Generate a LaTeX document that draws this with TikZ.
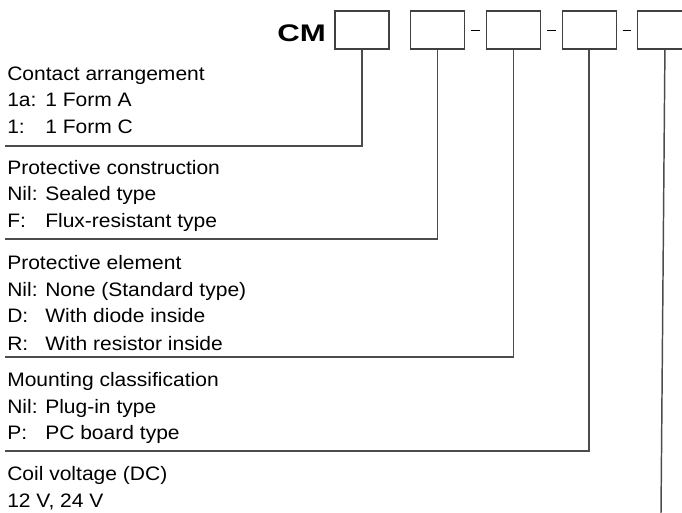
\documentclass[tikz,border=0pt]{standalone}
\usepackage{fontspec}
\setmainfont{Liberation Sans}[FakeStretch=1.08]
\newfontfamily\codefont{Liberation Sans}[FakeStretch=1.3]
\usetikzlibrary{positioning}
\newcommand{\opt}[2]{\makebox[28.5pt][l]{#1}#2}

\begin{document}
\begin{tikzpicture}[x=0.75pt, y=-0.75pt,
	slot/.style={draw=black!75, line width=0.8pt, minimum width=40.5pt, minimum height=28.5pt, inner sep=0pt},
	entry/.style={anchor=base west, inner sep=0pt, font=\fontsize{14.6pt}{20pt}\selectfont},
	lead/.style={draw=black!70, line width=1.1pt},
	sepmark/.style={draw=black, line width=0.6pt}]
	\useasboundingbox (0,0) rectangle (682,513);
	% part number boxes
	\node[anchor=base west, inner sep=0pt, font=\codefont\bfseries\fontsize{18pt}{18pt}\selectfont] (cm) at (277,42) {CM};
	\node[slot] (b1) at (362,30) {};
	\node[slot, right=15.5pt of b1] (b2) {};
	\node[slot, right=15.5pt of b2] (b3) {};
	\node[slot, right=15.5pt of b3] (b4) {};
	\node[slot, right=15.5pt of b4] (b5) {};
	\draw[sepmark] ([xshift=4.5pt]b2.east) -- ([xshift=-4.5pt]b3.west);
	\draw[sepmark] ([xshift=4.5pt]b3.east) -- ([xshift=-4.5pt]b4.west);
	\draw[sepmark] ([xshift=4.5pt]b4.east) -- ([xshift=-4.5pt]b5.west);
	% contact arrangement
	\node[entry] (ca) at (7,81) {Contact arrangement};
	\node[entry] (ca1) at (7,107) {\opt{1a:}{1 Form A}};
	\node[entry] (ca2) at (7,134) {\opt{1:}{1 Form C}};
	\coordinate (e1) at (5,146);
	\draw[lead] (b1.south) |- (e1);
	% protective construction
	\node[entry] (pc) at (7,175) {Protective construction};
	\node[entry] (pc1) at (7,201) {\opt{Nil:}{Sealed type}};
	\node[entry] (pc2) at (7,228) {\opt{F:}{Flux-resistant type}};
	\coordinate (e2) at (5,239);
	\draw[lead] (b2.south) |- (e2);
	% protective element
	\node[entry] (pe) at (7,270) {Protective element};
	\node[entry] (pe1) at (7,297) {\opt{Nil:}{None (Standard type)}};
	\node[entry] (pe2) at (7,323) {\opt{D:}{With diode inside}};
	\node[entry] (pe3) at (7,350) {\opt{R:}{With resistor inside}};
	\coordinate (e3) at (5,357);
	\draw[lead] (b3.south) |- (e3);
	% mounting classification
	\node[entry] (mc) at (7,386) {Mounting classification};
	\node[entry] (mc1) at (7,413) {\opt{Nil:}{Plug-in type}};
	\node[entry] (mc2) at (7,439) {\opt{P:}{PC board type}};
	\coordinate (e4) at (5,451);
	\draw[lead] (b4.south) |- (e4);
	% coil voltage
	\node[entry] (cv) at (7,480) {Coil voltage (DC)};
	\node[entry] (cv1) at (7,507) {12 V, 24 V};
	\coordinate (e5) at (661,513);
	\draw[lead] (b5.south) -- (e5);
\end{tikzpicture}
\end{document}
